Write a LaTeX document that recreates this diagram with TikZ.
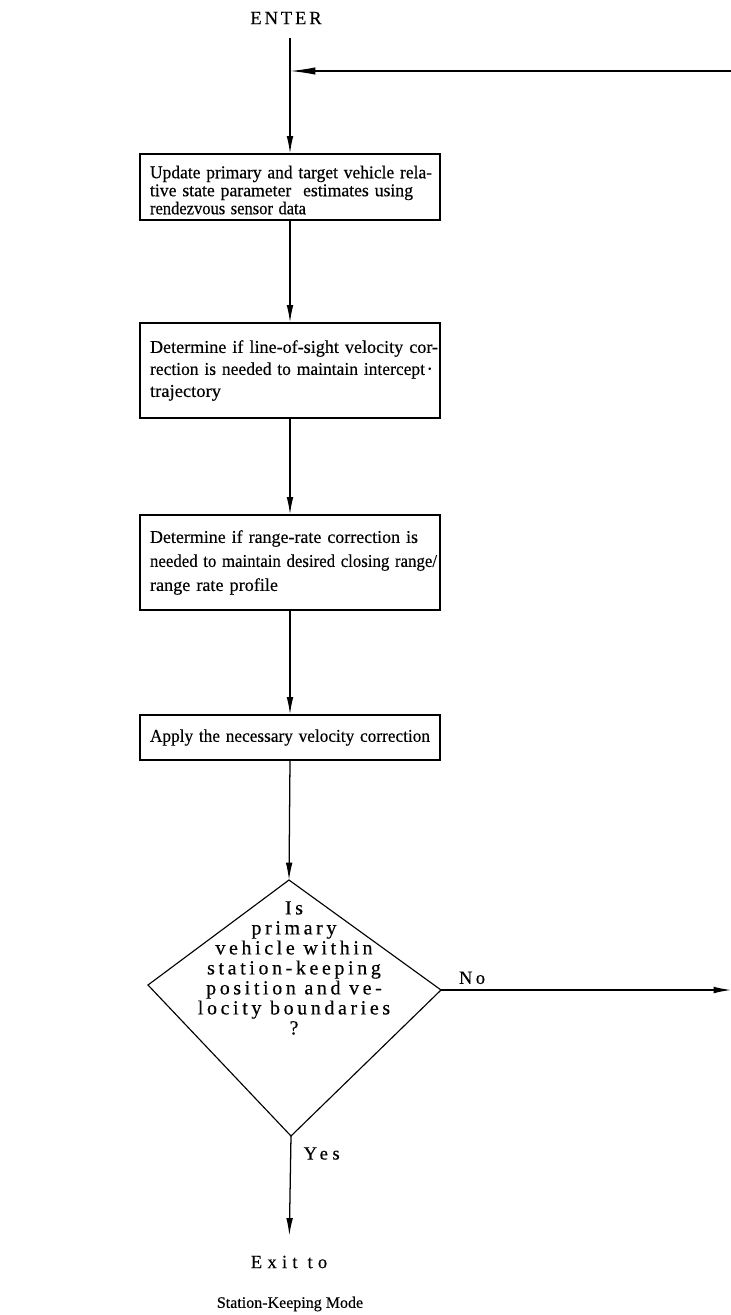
\documentclass[tikz,border=0pt]{standalone}
\usepackage{fontspec}
\setmainfont{Liberation Serif}[FakeBold=0.35]
\newfontfamily\spaced{Liberation Serif}[LetterSpace=18, FakeBold=0.35]
\usetikzlibrary{arrows.meta}
% one typed line, set to a fixed width
\newcommand{\tline}[2]{\resizebox{#1}{\height}{#2}}

\begin{document}
\begin{tikzpicture}[
    x=0.75pt, y=-0.75pt,
    every node/.style={font=\fontsize{12}{16.5}\selectfont},
    stepbox/.style={draw, line width=0.85pt, align=left, text width=210pt,
                    inner xsep=7.5pt, inner ysep=0pt, anchor=center},
    edgeline/.style={line width=0.95pt},
    flow/.style={edgeline, -{Latex[length=13pt,width=5pt]}},
    loopback/.style={edgeline, -{Latex[length=19pt,width=5.5pt]}},
    lbl/.style={inner sep=0pt, font=\spaced\fontsize{14}{15}\selectfont},
    asks/.style={inner sep=0pt, align=center, font=\spaced\fontsize{15}{15}\selectfont}
]
\useasboundingbox (0,0) rectangle (731,1315);

% entry point
\node[lbl, font=\spaced\addfontfeature{LetterSpace=15}\fontsize{14}{15}\selectfont]
  (enter) at (286,18) {ENTER};

% processing steps
\node[stepbox, minimum height=49.5pt, font=\fontsize{13.5}{13.5}\selectfont]
  (b1) at (290,187) {%
  \rule{0pt}{14pt}\tline{211.5pt}{Update primary and target vehicle rela-}\\
  \tline{197.25pt}{tive state parameter\ \ estimates using}\\
  \tline{117pt}{rendezvous sensor data}};
\node[stepbox, minimum height=71.25pt, font=\fontsize{13.5}{16.5}\selectfont]
  (b2) at (290,370.5) {%
  \tline{216pt}{Determine if line-of-sight velocity cor-}\\
  \tline{206.25pt}{rection is needed to maintain intercept}\,\raisebox{0.35ex}{\scalebox{0.55}{•}}\\
  \tline{53.25pt}{trajectory}};
\node[stepbox, minimum height=71.25pt, font=\fontsize{13.5}{18}\selectfont]
  (b3) at (290,562.5) {%
  \tline{201pt}{Determine if range-rate correction is}\\
  \tline{215.25pt}{needed to maintain desired closing range/}\\
  \tline{96pt}{range rate profile}};
\node[stepbox, minimum height=33.75pt, font=\fontsize{13.5}{16.5}\selectfont]
  (b4) at (290,737.5)
  {\tline{210pt}{Apply the necessary velocity correction}};

% decision diamond, drawn through its four corners
\coordinate (dtop) at (289,880);
\coordinate (dright) at (441,990);
\coordinate (dbot) at (291,1136);
\coordinate (dleft) at (148,985);
\draw[edgeline, line width=0.85pt, line join=miter]
  (dtop) -- (dright) -- (dbot) -- (dleft) -- cycle;
\node[asks] (q) at (294,968)
  {Is\\ primary\\ vehicle within\\ station-keeping\\ position and ve-\\
   locity boundaries\\ ?};

% exit labels
\node[lbl, font=\spaced\addfontfeature{LetterSpace=28}\fontsize{14}{15}\selectfont]
  (exit) at (289,1262) {Exit to};
\node[inner sep=0pt] (mode) at (290,1304) {Station-Keeping Mode};

% free ends at the right margin
\coordinate (ret) at (731,71);
\coordinate (noout) at (731,990);

% connectors
\draw[flow] ([yshift=-10pt]enter.south -| b1.north) -- (b1.north);
\draw[loopback] (ret) -- (ret -| b1.north);
\draw[flow] (b1) -- (b2);
\draw[flow] (b2) -- (b3);
\draw[flow] (b3) -- (b4);
\draw[flow] (b4.south) -- (dtop);
\draw[flow] (dright) -- (noout)
  node[pos=0, lbl, anchor=south west, xshift=13pt, yshift=4pt] (no) {No};
\draw[flow, shorten >=15pt] (dbot) -- (exit.north)
  node[pos=0, lbl, anchor=north west, xshift=9pt, yshift=-8pt,
       font=\spaced\addfontfeature{LetterSpace=24}\fontsize{14}{15}\selectfont] (yes) {Yes};
\end{tikzpicture}
\end{document}
